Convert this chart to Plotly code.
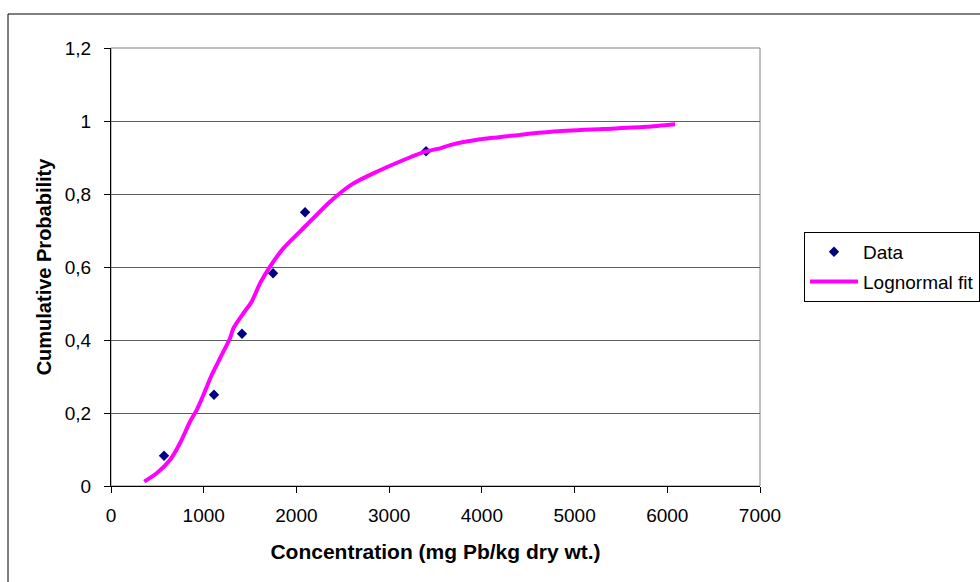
import plotly.graph_objects as go

# Observed lead concentrations (mg Pb/kg dry wt.) and their plotting positions
data_conc = [572, 1111, 1413, 1748, 2093, 3398]
data_prob = [0.083, 0.250, 0.417, 0.583, 0.750, 0.917]

# Fitted lognormal cumulative distribution, sampled along the curve
fit_conc = [359, 493, 636, 744, 852, 924, 996, 1086, 1176, 1284, 1320, 1427,
            1517, 1607, 1715, 1859, 2110, 2362, 2614, 2866, 3117, 3387, 3549,
            3657, 3980, 4412, 4771, 5310, 5778, 6084]
fit_prob = [0.012, 0.035, 0.071, 0.117, 0.176, 0.208, 0.249, 0.304, 0.350,
            0.405, 0.432, 0.473, 0.505, 0.555, 0.601, 0.651, 0.715, 0.779,
            0.829, 0.861, 0.889, 0.916, 0.925, 0.934, 0.950, 0.962, 0.971,
            0.978, 0.984, 0.991]

x_ticks = [0, 1000, 2000, 3000, 4000, 5000, 6000, 7000]
y_ticks = [0, 0.2, 0.4, 0.6, 0.8, 1.0, 1.2]

FONT = "Arial, Liberation Sans, sans-serif"

fig = go.Figure()
fig.add_trace(go.Scatter(
    x=data_conc, y=data_prob, mode="markers", name="Data",
    marker=dict(symbol="diamond", size=8, color="#000080"),
    legendgroup="a",
))
fig.add_trace(go.Scatter(
    x=fit_conc, y=fit_prob, mode="lines", name="Lognormal fit",
    line=dict(color="#FF00FF", width=4, shape="spline", smoothing=0.6),
    legendgroup="b",
))

fig.update_layout(
    width=980, height=582,
    margin=dict(l=111, r=220, t=48, b=96, autoexpand=False),
    paper_bgcolor="white", plot_bgcolor="white",
    separators=", ",
    font=dict(family=FONT, size=19, color="black"),
    showlegend=True,
    legend=dict(
        x=1.0678, y=0.58, xanchor="left", yanchor="top",
        bgcolor="white", bordercolor="black", borderwidth=1,
        font=dict(family=FONT, size=19, color="black"),
        tracegroupgap=2, itemwidth=48,
    ),
    xaxis=dict(
        range=[0, 7000], tickvals=x_ticks, showgrid=False, zeroline=False,
        showline=True, linecolor="black", linewidth=1,
        ticks="outside", ticklen=6, tickcolor="black",
        ticklabelstandoff=6,
        tickfont=dict(family=FONT, size=19),
        title=dict(text="<b>Concentration (mg Pb/kg dry wt.)</b>",
                   font=dict(family=FONT, size=21), standoff=19),
    ),
    yaxis=dict(
        range=[0, 1.2], tickvals=y_ticks, showgrid=True, gridcolor="#5e5e5e",
        gridwidth=1, zeroline=False,
        showline=True, linecolor="black", linewidth=1,
        ticks="outside", ticklen=6, tickcolor="black",
        ticklabelstandoff=9,
        tickfont=dict(family=FONT, size=19),
        title=dict(text="<b>Cumulative Probability</b>",
                   font=dict(family=FONT, size=20), standoff=7),
    ),
)

# plot-area frame and outer chart frame
fig.add_shape(type="rect", xref="paper", yref="paper", x0=0, x1=1, y0=0, y1=1,
              line=dict(color="#808080", width=1), layer="below")
fig.add_shape(type="rect", xref="paper", yref="paper",
              x0=-0.1587, x1=1.36, y0=-0.25, y1=1.0776,
              line=dict(color="black", width=1), layer="below")

fig.write_html("out.html")
